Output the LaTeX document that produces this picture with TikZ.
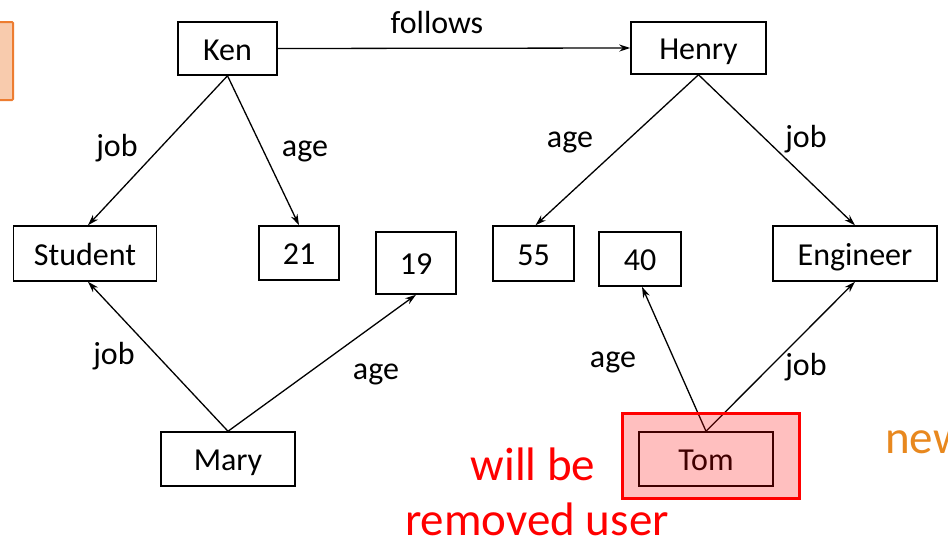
\documentclass[tikz,border=0pt]{standalone}
\usepackage{fontspec}
\setmainfont{Carlito}
\usetikzlibrary{arrows.meta}
\definecolor{accent}{RGB}{237,125,49}
\definecolor{accentfill}{RGB}{248,203,173}
\definecolor{newtext}{RGB}{232,136,30}
\begin{document}
\begin{tikzpicture}[x=1pt,y=-1pt,
  box/.style={draw=black,line width=1.5pt,fill=white,inner sep=0pt,
    text height=26pt,text depth=3pt,
    font=\fontsize{32}{38}\selectfont},
  lbl/.style={font=\fontsize{32}{38}\selectfont,inner sep=0pt,anchor=base},
  link/.style={line width=1.3pt,-{Stealth[length=11pt,width=7pt]}},
  note/.style={font=\fontsize{47}{55}\selectfont,text=red,inner sep=0pt,align=center}]
\useasboundingbox (0,0) rectangle (948,547);
\fill[white] (0,0) rectangle (948,547);

% partially visible legend box at the left edge
\draw[accent,fill=accentfill,line width=2pt,rounded corners=1pt] (-30,22) rectangle (13,100);

% entity nodes
\node[box,minimum width=99pt,minimum height=53pt] (ken) at (227.5,48.5) {Ken};
\node[box,minimum width=135pt,minimum height=52pt] (henry) at (698.5,48) {Henry};
\node[box,minimum width=143pt,minimum height=55pt] (student) at (85,253.5) {Student};
\node[box,minimum width=80pt,minimum height=54pt] (n21) at (299,253) {21};
\node[box,minimum width=80pt,minimum height=62pt] (n19) at (416,263) {19};
\node[box,minimum width=81pt,minimum height=55pt] (n55) at (533.5,253.5) {55};
\node[box,minimum width=82pt,minimum height=54pt] (n40) at (640,259) {40};
\node[box,minimum width=164pt,minimum height=55pt] (engineer) at (855,253.5) {Engineer};
\node[box,minimum width=134pt,minimum height=54pt] (mary) at (228,459) {Mary};
\node[box,minimum width=134pt,minimum height=54pt] (tom) at (706,459) {Tom};

% relations
\draw[link] (ken.east) -- (henry.west);
\draw[link] (ken.south) -- ([xshift=3pt]student.north);
\draw[link] (ken.south) -- (n21.north);
\draw[link] (henry.south) -- ([xshift=2pt]n55.north);
\draw[link] (henry.south) -- (engineer.north);
\draw[link] (mary.north) -- ([xshift=3pt]student.south);
\draw[link] (mary.north) -- (n19.south);
\draw[link] (tom.north) -- ([xshift=2pt]n40.south);
\draw[link] (tom.north) -- (engineer.south);

% relation labels
\node[lbl] (lfollows) at (437,33) {follows};
\node[lbl] (l1) at (117,156) {job};
\node[lbl] (l2) at (305,156) {age};
\node[lbl] (l3) at (570,147) {age};
\node[lbl] (l4) at (806,147) {job};
\node[lbl] (l5) at (114,364) {job};
\node[lbl] (l6) at (376,379) {age};
\node[lbl] (l7) at (613,367) {age};
\node[lbl] (l8) at (806,375) {job};

% highlight over the removed user
\draw[red,line width=3pt,fill=red,fill opacity=0.25] (622,413) rectangle (799,498);

% annotations
\node[note,anchor=base] (willbe) at (533,480) {will be};
\node[note,anchor=base] (removed) at (537,535) {removed user};
\node[note,anchor=base west,text=newtext] (newlbl) at (885,453) {new};
\end{tikzpicture}
\end{document}
